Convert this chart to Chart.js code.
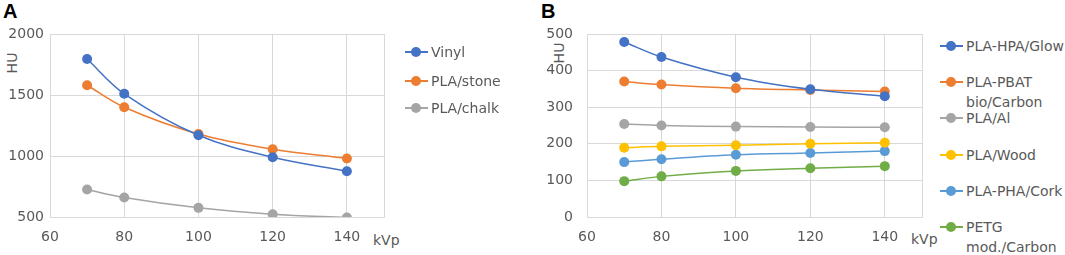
<!DOCTYPE html>
<html>
<head>
<meta charset="utf-8">
<script src="https://cdn.jsdelivr.net/npm/chart.js@4/dist/chart.umd.min.js"></script>
<style>
  body { margin: 0; background: #fff; width: 1065px; height: 255px; position: relative; overflow: hidden; font-family: "DejaVu Sans", sans-serif; }
  canvas { position: absolute; top: 0; }
  .lbl { position: absolute; font: bold 20px "Liberation Sans", Arial, sans-serif; color: #000; }
  .txt { position: absolute; font-size: 14px; color: #595959; white-space: nowrap; line-height: 16px; }
  .rot { transform: rotate(-90deg); transform-origin: center; }
  .leg { position: absolute; font-size: 14px; color: #595959; line-height: 20px; }
  .leg .mk { position: absolute; width: 23px; height: 2px; top: -1px; }
  .leg .mk i { position: absolute; left: 6px; top: -4px; width: 10px; height: 10px; border-radius: 50%; }
  .leg span { position: absolute; left: 26px; top: -10px; white-space: nowrap; }
</style>
</head>
<body>
<div class="lbl" style="left:3px;top:0px;">A</div>
<div class="lbl" style="left:541px;top:0px;">B</div>
<div class="txt rot" style="left:2px;top:55px;">HU</div>
<div class="txt rot" style="left:549px;top:45px;">HU</div>
<div class="txt" style="left:373px;top:232px;">kVp</div>
<div class="txt" style="left:911px;top:231px;">kVp</div>
<canvas id="chartA" width="400" height="255" style="left:0px"></canvas>
<canvas id="chartB" width="460" height="255" style="left:480px"></canvas>
<div id="legA"></div>
<div id="legB"></div>
<script>
// x values (kVp)
const kvp = [70, 80, 100, 120, 140];

// panel A
const namesA = ['Vinyl', 'PLA/stone', 'PLA/chalk'];
const vinyl = [1795, 1510, 1170, 990, 875];
const plaStone = [1580, 1400, 1180, 1055, 980];
const plaChalk = [725, 660, 575, 522, 495];

// panel B
const namesB = ['PLA-HPA/Glow', 'PLA-PBAT\nbio/Carbon', 'PLA/Al', 'PLA/Wood', 'PLA-PHA/Cork', 'PETG\nmod./Carbon'];
const hpaGlow = [478, 437, 382, 349, 330];
const pbatCarbon = [370, 362, 352, 347, 343];
const plaAl = [254, 250, 247, 246, 245];
const plaWood = [189, 193, 196, 200, 203];
const phaCork = [150, 158, 170, 175, 180];
const petgCarbon = [98, 111, 126, 133, 139];

const ticksA = [500, 1000, 1500, 2000];
const ticksB = [0, 100, 200, 300, 400, 500];

const colorsA = ['#4472C4', '#ED7D31', '#A5A5A5'];
const colorsB = ['#4472C4', '#ED7D31', '#A5A5A5', '#FFC000', '#5B9BD5', '#70AD47'];

const grid = '#D9D9D9';
const tickFont = { family: 'DejaVu Sans', size: 14 };

function ds(name, vals, color) {
  return {
    label: name,
    data: kvp.map((x, i) => ({ x: x, y: vals[i] })),
    borderColor: color,
    backgroundColor: color,
    borderWidth: 1.5,
    pointRadius: 5,
    pointHoverRadius: 5,
    pointBorderWidth: 0,
    tension: 0.35,
    showLine: true
  };
}

function makeChart(id, sets, yTicks, pad, yWidth, yPad) {
  new Chart(document.getElementById(id), {
    type: 'scatter',
    data: { datasets: sets },
    options: {
      responsive: false,
      animation: false,
      layout: { padding: pad },
      plugins: { legend: { display: false }, tooltip: { enabled: false } },
      scales: {
        x: {
          type: 'linear', min: 60, max: 150,
          ticks: { stepSize: 20, color: '#595959', font: tickFont, padding: 12, maxRotation: 0,
                   callback: v => (v === 150 ? '' : String(v)) },
          grid: { color: grid, drawTicks: false },
          border: { color: grid },
          afterFit: s => { s.height = 38; }
        },
        y: {
          min: yTicks[0], max: yTicks[yTicks.length - 1],
          afterBuildTicks: s => { s.ticks = yTicks.map(v => ({ value: v })); },
          ticks: { color: '#595959', font: tickFont, padding: yPad, callback: v => String(v) },
          grid: { color: grid, drawTicks: false },
          border: { color: grid },
          afterFit: s => { s.width = yWidth; }
        }
      }
    }
  });
}

makeChart('chartA', [ds(namesA[0], vinyl, colorsA[0]), ds(namesA[1], plaStone, colorsA[1]), ds(namesA[2], plaChalk, colorsA[2])],
  ticksA, { left: 0, top: 34, right: 16, bottom: 0 }, 50, 6);

const valsB = [hpaGlow, pbatCarbon, plaAl, plaWood, phaCork, petgCarbon];
makeChart('chartB', valsB.map((v, i) => ds(namesB[i].replace('\n', ' '), v, colorsB[i])),
  ticksB, { left: 62, top: 34, right: 18, bottom: 0 }, 45, 14);

// legends
function legend(el, names, colors, x, ys) {
  const box = document.getElementById(el);
  names.forEach((n, i) => {
    const d = document.createElement('div');
    d.className = 'leg';
    d.style.left = x + 'px';
    d.style.top = ys[i] + 'px';
    d.innerHTML = '<div class="mk" style="background:' + colors[i] + '"><i style="background:' + colors[i] + '"></i></div>' +
      '<span>' + n.replace('\n', '<br>') + '</span>';
    box.appendChild(d);
  });
}
legend('legA', namesA, colorsA, 405, [52, 81, 108]);
legend('legB', namesB, colorsB, 940, [46, 82, 118, 155, 191, 227]);
</script>
</body>
</html>
